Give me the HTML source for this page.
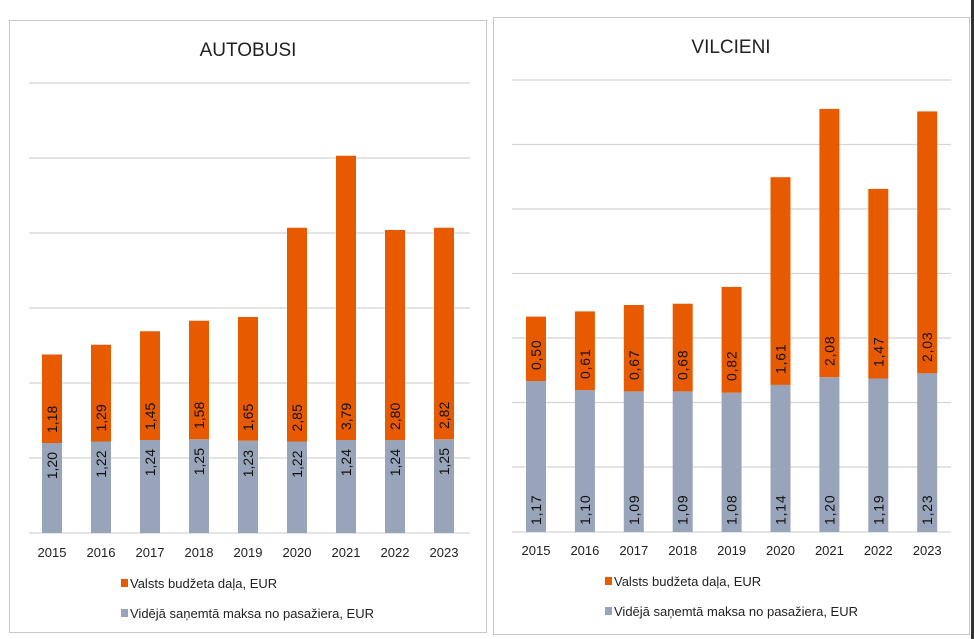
<!DOCTYPE html>
<html><head><meta charset="utf-8"><style>
body{margin:0;background:#fff;}
svg{display:block;font-family:"Liberation Sans",sans-serif;}
</style></head><body>
<svg width="974" height="639" viewBox="0 0 974 639" xmlns="http://www.w3.org/2000/svg">
<rect width="974" height="639" fill="#fff"/>
<rect x="9.5" y="20.5" width="477" height="612" fill="#fff" stroke="#c8c8c8"/>
<rect x="493.5" y="17.5" width="476" height="617" fill="#fff" stroke="#c8c8c8"/>
<rect x="971" y="0" width="3" height="639" fill="#333"/>
<text x="248" y="56" font-size="19" text-anchor="middle" fill="#222">AUTOBUSI</text>
<text x="731" y="53" font-size="19" text-anchor="middle" fill="#222">VILCIENI</text>
<g stroke="#d4d4d4" stroke-width="1.3">
<line x1="29" x2="470" y1="83" y2="83"/><line x1="29" x2="470" y1="158" y2="158"/><line x1="29" x2="470" y1="233" y2="233"/><line x1="29" x2="470" y1="308" y2="308"/><line x1="29" x2="470" y1="383" y2="383"/><line x1="29" x2="470" y1="458" y2="458"/><line x1="29" x2="470" y1="533" y2="533"/>
<line x1="512" x2="951" y1="80" y2="80"/><line x1="512" x2="951" y1="144.5" y2="144.5"/><line x1="512" x2="951" y1="209" y2="209"/><line x1="512" x2="951" y1="273.5" y2="273.5"/><line x1="512" x2="951" y1="338" y2="338"/><line x1="512" x2="951" y1="402.5" y2="402.5"/><line x1="512" x2="951" y1="467" y2="467"/><line x1="512" x2="951" y1="532" y2="532"/>
</g>
<g fill="#97a4b9">
<rect x="42" y="443" width="20" height="90"/><rect x="91" y="441.5" width="20" height="91.5"/><rect x="140" y="440" width="20" height="93"/><rect x="189" y="439.25" width="20" height="93.75"/><rect x="238" y="440.75" width="20" height="92.25"/><rect x="287" y="441.5" width="20" height="91.5"/><rect x="336" y="440" width="20" height="93"/><rect x="385" y="440" width="20" height="93"/><rect x="434" y="439.25" width="20" height="93.75"/>
<rect x="526" y="381.1" width="20" height="150.9"/><rect x="574.9" y="390.1" width="20" height="141.9"/><rect x="623.8" y="391.4" width="20" height="140.6"/><rect x="672.7" y="391.4" width="20" height="140.6"/><rect x="721.6" y="392.7" width="20" height="139.3"/><rect x="770.5" y="384.9" width="20" height="147.1"/><rect x="819.4" y="377.2" width="20" height="154.8"/><rect x="868.3" y="378.5" width="20" height="153.5"/><rect x="917.2" y="373.3" width="20" height="158.7"/>
</g>
<g fill="#e85a00">
<rect x="42" y="354.5" width="20" height="88.5"/><rect x="91" y="344.75" width="20" height="96.75"/><rect x="140" y="331.25" width="20" height="108.75"/><rect x="189" y="320.75" width="20" height="118.5"/><rect x="238" y="317" width="20" height="123.75"/><rect x="287" y="227.75" width="20" height="213.75"/><rect x="336" y="155.75" width="20" height="284.25"/><rect x="385" y="230" width="20" height="210"/><rect x="434" y="227.75" width="20" height="211.5"/>
<rect x="526" y="316.6" width="20" height="64.5"/><rect x="574.9" y="311.4" width="20" height="78.7"/><rect x="623.8" y="305" width="20" height="86.4"/><rect x="672.7" y="303.7" width="20" height="87.7"/><rect x="721.6" y="286.9" width="20" height="105.8"/><rect x="770.5" y="177.2" width="20" height="207.7"/><rect x="819.4" y="108.9" width="20" height="268.3"/><rect x="868.3" y="188.9" width="20" height="189.6"/><rect x="917.2" y="111.4" width="20" height="261.9"/>
</g>
<g font-size="14" fill="#111" text-anchor="end">
<text transform="translate(57,452) rotate(-90)">1,20</text><text transform="translate(106,450.5) rotate(-90)">1,22</text><text transform="translate(155,449) rotate(-90)">1,24</text><text transform="translate(204,448) rotate(-90)">1,25</text><text transform="translate(253,450) rotate(-90)">1,23</text><text transform="translate(302,450.5) rotate(-90)">1,22</text><text transform="translate(351,449) rotate(-90)">1,24</text><text transform="translate(400,449) rotate(-90)">1,24</text><text transform="translate(449,448) rotate(-90)">1,25</text>
</g>
<g font-size="14" fill="#111" text-anchor="start">
<text transform="translate(57,433) rotate(-90)">1,18</text><text transform="translate(106,431.5) rotate(-90)">1,29</text><text transform="translate(155,430) rotate(-90)">1,45</text><text transform="translate(204,429) rotate(-90)">1,58</text><text transform="translate(253,431) rotate(-90)">1,65</text><text transform="translate(302,431.5) rotate(-90)">2,85</text><text transform="translate(351,430) rotate(-90)">3,79</text><text transform="translate(400,430) rotate(-90)">2,80</text><text transform="translate(449,429) rotate(-90)">2,82</text>
</g>
<g font-size="14" fill="#111" text-anchor="start" letter-spacing="0.8">
<text transform="translate(541,370) rotate(-90)">0,50</text><text transform="translate(589.9,379) rotate(-90)">0,61</text><text transform="translate(638.8,380) rotate(-90)">0,67</text><text transform="translate(687.7,380) rotate(-90)">0,68</text><text transform="translate(736.6,381) rotate(-90)">0,82</text><text transform="translate(785.5,374) rotate(-90)">1,61</text><text transform="translate(834.4,366) rotate(-90)">2,08</text><text transform="translate(883.3,367) rotate(-90)">1,47</text><text transform="translate(932.2,362) rotate(-90)">2,03</text>
<text transform="translate(541,525) rotate(-90)">1,17</text><text transform="translate(589.9,525) rotate(-90)">1,10</text><text transform="translate(638.8,525) rotate(-90)">1,09</text><text transform="translate(687.7,525) rotate(-90)">1,09</text><text transform="translate(736.6,525) rotate(-90)">1,08</text><text transform="translate(785.5,525) rotate(-90)">1,14</text><text transform="translate(834.4,525) rotate(-90)">1,20</text><text transform="translate(883.3,525) rotate(-90)">1,19</text><text transform="translate(932.2,525) rotate(-90)">1,23</text>
</g>
<g font-size="13" fill="#222" text-anchor="middle">
<text x="52" y="557">2015</text><text x="101" y="557">2016</text><text x="150" y="557">2017</text><text x="199" y="557">2018</text><text x="248" y="557">2019</text><text x="297" y="557">2020</text><text x="346" y="557">2021</text><text x="395" y="557">2022</text><text x="444" y="557">2023</text>
<text x="536" y="555">2015</text><text x="584.9" y="555">2016</text><text x="633.8" y="555">2017</text><text x="682.7" y="555">2018</text><text x="731.6" y="555">2019</text><text x="780.5" y="555">2020</text><text x="829.4" y="555">2021</text><text x="878.3" y="555">2022</text><text x="927.2" y="555">2023</text>
</g>
<rect x="121" y="579" width="7" height="8" fill="#e85a00"/>
<rect x="121" y="609" width="7" height="8" fill="#97a4b9"/>
<rect x="605" y="577" width="7" height="8" fill="#e85a00"/>
<rect x="605" y="607" width="7" height="8" fill="#97a4b9"/>
<g font-size="13" fill="#222">
<text x="130" y="588">Valsts budžeta daļa, EUR</text>
<text x="130" y="618">Vidējā saņemtā maksa no pasažiera, EUR</text>
<text x="614" y="586">Valsts budžeta daļa, EUR</text>
<text x="614" y="616">Vidējā saņemtā maksa no pasažiera, EUR</text>
</g>
</svg>
</body></html>
